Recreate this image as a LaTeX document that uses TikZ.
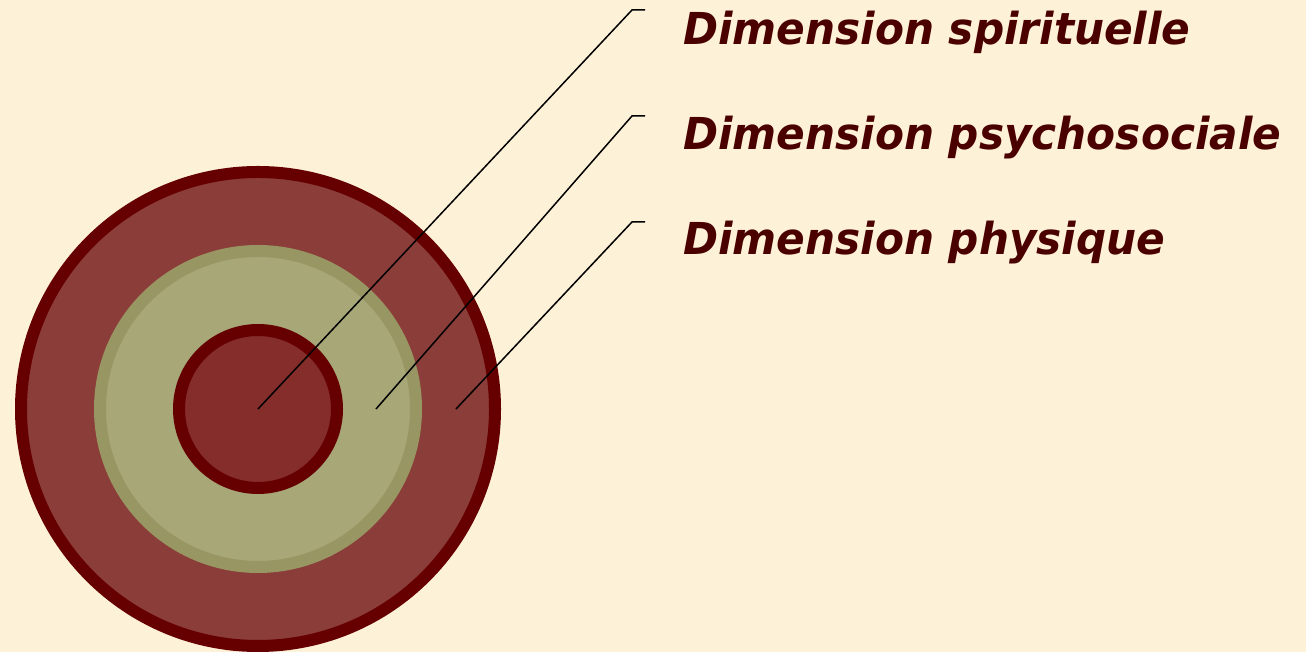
\documentclass[tikz,border=0pt]{standalone}
\usepackage{fontspec}
\setsansfont{DejaVu Sans}
\definecolor{paper}{HTML}{FDF2D7}
\definecolor{ringred}{HTML}{660000}
\definecolor{outerfill}{HTML}{8B3D39}
\definecolor{innerfill}{HTML}{842D2A}
\definecolor{olivefill}{HTML}{A7A778}
\definecolor{oliveedge}{HTML}{989662}
\definecolor{txtred}{HTML}{4B0000}
\begin{document}
\begin{tikzpicture}[x=1pt, y=1pt,
    ring/.style={line width=12pt},
    leader/.style={line width=1.5pt, black},
    dimlabel/.style={anchor=base west, inner sep=0pt, text=txtred, xscale=0.96,
        font=\sffamily\bfseries\itshape\fontsize{44}{50}\selectfont}]
    \fill[paper] (0,0) rectangle (1306,652);
    \useasboundingbox (0,0) rectangle (1306,652);
    % the three rings
    \draw[ring, ringred, fill=outerfill] (258,243) circle (237);
    \draw[ring, oliveedge, fill=olivefill] (258,243) circle (158);
    \draw[ring, ringred, fill=innerfill] (258,243) circle (79);
    % labels
    \node[dimlabel] (spi) at (683,607) {Dimension spirituelle};
    \node[dimlabel] (psy) at (683,502) {Dimension psychosociale};
    \node[dimlabel] (phy) at (683,397) {Dimension physique};
    % leader lines
    \coordinate (p1) at (258,243); \coordinate (k1) at (632,642); \coordinate (e1) at (645,642);
    \coordinate (p2) at (376,243); \coordinate (k2) at (632,536); \coordinate (e2) at (645,536);
    \coordinate (p3) at (456,243); \coordinate (k3) at (632,430); \coordinate (e3) at (645,430);
    \draw[leader] (p1) -- (k1) -- (e1);
    \draw[leader] (p2) -- (k2) -- (e2);
    \draw[leader] (p3) -- (k3) -- (e3);
\end{tikzpicture}
\end{document}
